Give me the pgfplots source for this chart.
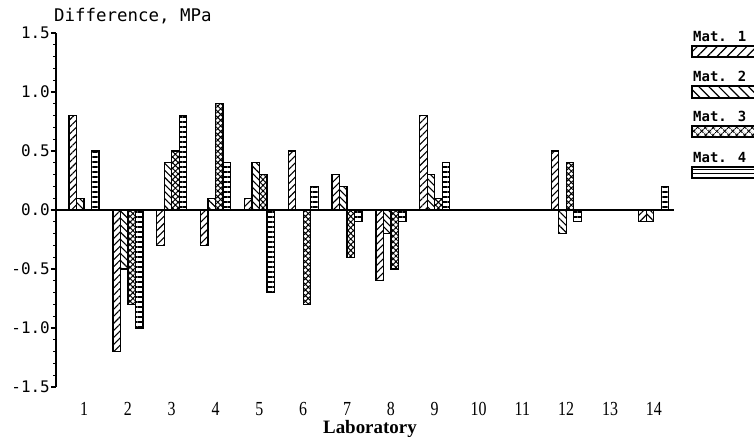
\documentclass[border=0pt]{standalone}
\usepackage{fontspec}
\setmainfont{Liberation Serif}
\newfontfamily\plotmono{DejaVu Sans Mono}
\newfontfamily\condserif[FakeStretch=0.8]{Liberation Serif}
\usepackage{pgfplots}
\usepackage{pgfplotstable}
\pgfplotsset{compat=1.18}
\usetikzlibrary{patterns.meta}

% Difference per laboratory and material, MPa
\pgfplotstableread{
lab  m1    m2    m3    m4
1    0.8   0.1   0.0   0.5
2   -1.2  -0.5  -0.8  -1.0
3   -0.3   0.4   0.5   0.8
4   -0.3   0.1   0.9   0.4
5    0.1   0.4   0.3  -0.7
6    0.5   0.0  -0.8   0.2
7    0.3   0.2  -0.4  -0.1
8   -0.6  -0.2  -0.5  -0.1
9    0.8   0.3   0.1   0.4
10   0.0   0.0   0.0   0.0
11   0.0   0.0   0.0   0.0
12   0.5  -0.2   0.4  -0.1
13   0.0   0.0   0.0   0.0
14  -0.1  -0.1   0.0   0.2
}\labdata

\tikzset{
  mat1/.style={draw=black, line width=1.3bp, pattern={Lines[angle=45,distance=5bp,line width=1.1bp]}},
  mat2/.style={draw=black, line width=1.3bp, pattern={Lines[angle=-45,distance=5bp,line width=1.1bp]}},
  mat3/.style={draw=black, line width=1.3bp, pattern={Hatch[angle=45,distance=4bp,line width=1bp]}},
  mat4/.style={draw=black, line width=1.3bp, pattern={Lines[angle=0,distance=5bp,line width=1.1bp]}},
}

\begin{document}
\begin{tikzpicture}
\useasboundingbox (0,0) rectangle (754bp,437bp);
\begin{axis}[
  at={(56bp,50bp)}, anchor=south west,
  width=618bp, height=354bp, scale only axis,
  xmin=0.36, xmax=14.46, ymin=-1.5, ymax=1.5,
  axis lines*=left,
  axis line style={line width=1.3bp},
  x axis line style={draw=none},
  ybar=0pt, bar width=7.5bp,
  xtick={1,...,14},
  xticklabels={1,2,3,4,5,6,7,8,9,10,11,12,13,14},
  xtick style={draw=none},
  xticklabel style={font=\condserif\fontsize{20}{22}\selectfont, anchor=base, yshift=-23bp, inner sep=0pt},
  ytick={-1.5,-1,-0.5,0,0.5,1,1.5},
  yticklabels={-1.5,-1.0,-0.5,0.0,0.5,1.0,1.5},
  minor y tick num=4,
  tick align=outside,
  major tick length=5bp, minor tick length=2.5bp,
  ytick style={line width=1.1bp, black},
  yticklabel style={font=\plotmono\fontsize{16}{18}\selectfont, inner sep=1bp},
  extra y ticks={0}, extra y tick labels={},
  extra y tick style={grid=major, major grid style={black, line width=1.3bp}},
  title={Difference, MPa},
  title style={at={(axis description cs:0,1)}, anchor=base west, yshift=6bp, xshift=-2bp,
    inner sep=0pt, font=\plotmono\fontsize{17.5}{20}\selectfont},
  xlabel={Laboratory},
  xlabel style={at={(axis description cs:0.508,0)}, anchor=base, yshift=-46bp,
    inner sep=0pt, font=\bfseries\fontsize{19}{21}\selectfont},
  clip=false,
]
\addplot[mat1] table[x=lab, y=m1] {\labdata};
\addplot[mat2] table[x=lab, y=m2] {\labdata};
\addplot[mat3] table[x=lab, y=m3] {\labdata};
\addplot[mat4] table[x=lab, y=m4] {\labdata};
\end{axis}

% Legend
\begin{scope}[every node/.style={anchor=base west, inner sep=0pt, font=\plotmono\bfseries\fontsize{14}{16}\selectfont}]
\node at (693bp,395bp) {Mat. 1};
\draw[line width=1.2bp, pattern={Lines[angle=45,distance=7bp,line width=1.2bp]}] (692bp,380bp) rectangle (770bp,391bp);
\node at (693bp,355bp) {Mat. 2};
\draw[line width=1.2bp, pattern={Lines[angle=-45,distance=7bp,line width=1.2bp]}] (692bp,339bp) rectangle (770bp,351bp);
\node at (693bp,315bp) {Mat. 3};
\draw[line width=1.2bp, pattern={Hatch[angle=45,distance=6bp,line width=1.2bp]}] (692bp,300bp) rectangle (770bp,311bp);
\node at (693bp,274bp) {Mat. 4};
\draw[line width=1.2bp, pattern={Lines[angle=0,distance=4bp,line width=0.9bp]}] (692bp,259bp) rectangle (770bp,270bp);
\end{scope}
\end{tikzpicture}
\end{document}
